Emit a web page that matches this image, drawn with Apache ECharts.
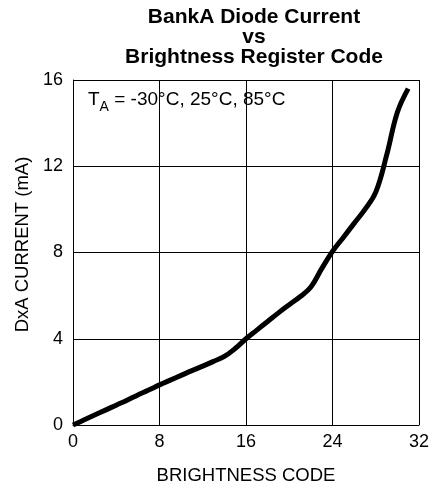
<!DOCTYPE html>
<html>
<head>
<meta charset="utf-8">
<script src="https://cdn.jsdelivr.net/npm/echarts@6/dist/echarts.min.js"></script>
<style>
  html, body { margin: 0; padding: 0; background: #fff; }
  #chart { width: 434px; height: 487px; }
</style>
</head>
<body>
<div id="chart"></div>
<script>
// brightness register code vs diode current (mA)
var codes = [0, 1, 2, 3, 4, 5, 6, 7, 8, 9, 10, 11, 12, 13, 14, 15,
             16, 17, 18, 19, 20, 21, 22, 23, 24, 25, 26, 27, 28, 29, 30, 31];
var current = [0, 0.23, 0.46, 0.69, 0.92, 1.15, 1.39, 1.62, 1.86, 2.08, 2.3, 2.52, 2.73, 2.95, 3.18, 3.55,
               4.0, 4.4, 4.8, 5.2, 5.58, 5.95, 6.4, 7.25, 8.05, 8.7, 9.35, 10.0, 10.8, 12.5, 14.5, 15.6];

var seriesData = codes.map(function (c, i) { return [c, current[i]]; });

var chart = echarts.init(document.getElementById('chart'));
var font = 'Liberation Sans, Arial, sans-serif';

var option = {
    animation: false,
    backgroundColor: '#fff',
    title: {
        text: 'BankA Diode Current\nvs\nBrightness Register Code',
        left: 249,
        textAlign: 'center',
        top: 2,
        textStyle: {
            fontFamily: font,
            fontSize: 21,
            fontWeight: 'bold',
            lineHeight: 20,
            color: '#000'
        }
    },
    graphic: [{
        type: 'text',
        left: 88,
        top: 89,
        style: {
            text: '{t|T}{s|A}{t| = -30°C, 25°C, 85°C}',
            rich: {
                t: { fontFamily: font, fontSize: 19, color: '#000', verticalAlign: 'top', lineHeight: 24 },
                s: { fontFamily: font, fontSize: 14, color: '#000', verticalAlign: 'bottom', padding: [11, 0, 0, 0], lineHeight: 24 }
            }
        }
    }],
    grid: { left: 73, right: 15, top: 80, bottom: 62, outerBoundsMode: 'none' },
    xAxis: {
        type: 'value',
        min: 0, max: 32, interval: 8,
        name: 'BRIGHTNESS CODE',
        nameLocation: 'middle',
        nameGap: 41,
        nameTextStyle: { fontFamily: font, fontSize: 18.5, color: '#000' },
        axisLine: { show: true, lineStyle: { color: '#000', width: 1 } },
        axisTick: { show: false },
        axisLabel: { fontFamily: font, fontSize: 18, color: '#000', margin: 8 },
        splitLine: { show: true, lineStyle: { color: '#000', width: 1 } }
    },
    yAxis: {
        type: 'value',
        min: 0, max: 16, interval: 4,
        name: 'DxA CURRENT (mA)',
        nameLocation: 'middle',
        nameGap: 36,
        nameTextStyle: { fontFamily: font, fontSize: 18.5, color: '#000', padding: [0, 0, 0, 16] },
        axisLine: { show: true, lineStyle: { color: '#000', width: 1 } },
        axisTick: { show: false },
        axisLabel: { fontFamily: font, fontSize: 18, color: '#000', margin: 10 },
        splitLine: { show: true, lineStyle: { color: '#000', width: 1 } }
    },
    series: [{
        type: 'line',
        data: seriesData,
        smooth: 0.4,
        showSymbol: false,
        lineStyle: { color: '#000', width: 5 }
    }]
};

chart.setOption(option);
</script>
</body>
</html>
